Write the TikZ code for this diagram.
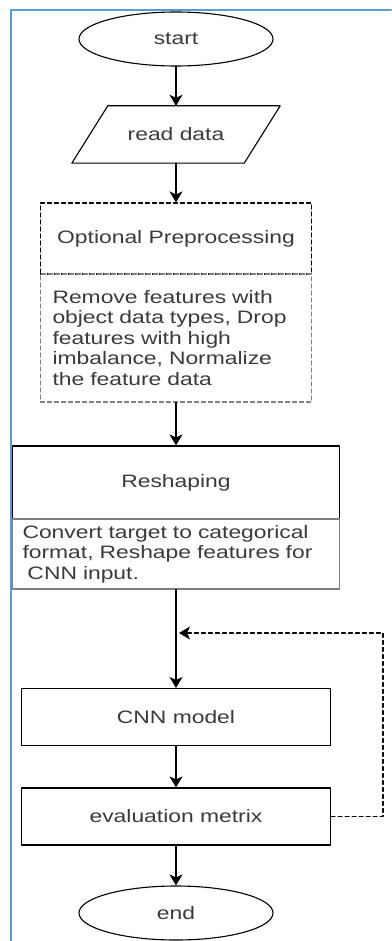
\documentclass[tikz,border=0pt]{standalone}
\usepackage{fontspec}
\setmainfont{Liberation Sans}[FakeStretch=1.27]
\usepackage{xcolor}
\usepackage{tikz}
\usetikzlibrary{arrows.meta, shapes.geometric}
\definecolor{frame_blue}{HTML}{5B9BD5}
\definecolor{label_gray}{HTML}{3A3A3A}
\definecolor{body_gray}{HTML}{7F7F7F}

\begin{document}
\begin{tikzpicture}[
                x=1pt,
                y=-1pt,
                line cap=round,
                line join=round,
                every node/.style={font=\fontsize{18}{20.5}\selectfont, text=label_gray},
                terminal/.style={draw, line width=1.1pt, ellipse, minimum width=194, minimum height=54},
                titlebox/.style={draw, line width=1.1pt, rectangle, minimum height=72},
                bodybox/.style={draw=body_gray, line width=1.1pt, rectangle, align=left},
                stepbox/.style={draw, line width=1.1pt, rectangle, minimum width=309, minimum height=57},
                arr/.style={line width=1.1pt, -{Stealth[length=11pt, width=13pt, inset=3pt]}},
                loopback/.style={arr, dash pattern=on 4pt off 3pt}
            ]
            \useasboundingbox (0,0) rectangle (391,941);

            % Frame on the page
            \draw[frame_blue, line width=2pt] (391,10) -- (11,10) -- (11,941);

            % Start and input
            \node[terminal] (start) at (176,39) {start};
            \node[minimum width=172, minimum height=57] (read) at (176,134.5) {read data};
            \draw[line width=1.1pt] ([xshift=18]read.north west) -- ([xshift=18]read.north east)
                -- ([xshift=-18]read.south east) -- ([xshift=-18]read.south west) -- cycle;

            % Optional Preprocessing (dashed)
            \node[titlebox, dash pattern=on 4pt off 3pt, minimum width=271, minimum height=71] (pre) at (176,238.5) {Optional Preprocessing};
            \node[bodybox, dash pattern=on 4pt off 3pt, minimum height=128, text width=247, inner xsep=12] (prebody) at (176,338)
                {Remove features with\\object data types, Drop\\features with high\\imbalance, Normalize\\the feature data};

            % Reshaping
            \node[titlebox, minimum width=327, minimum height=73] (reshape) at (176,482.5) {Reshaping};
            \node[bodybox, minimum height=70, text width=307, inner xsep=10] (reshapebody) at (176,554)
                {Convert target to categorical\\format, Reshape features for\\\hspace*{5pt}CNN input.};

            % Model and evaluation
            \node[stepbox] (cnn) at (176,717) {CNN model};
            \node[stepbox] (eval) at (176,816.5) {evaluation metrix};
            \node[terminal] (end) at (176,913) {end};

            % Arrows
            \draw[arr] (start) -- (read);
            \draw[arr] (read) -- (pre);
            \draw[arr] (prebody) -- (reshape);
            \draw[arr] (reshapebody) -- (cnn);
            \draw[arr] (cnn) -- (eval);
            \draw[arr] (eval) -- (end);

            % Feedback loop
            \coordinate (turn) at (383,633);
            \coordinate (loop) at (179,633);
            \draw[loopback] (eval.east) -| (turn) -- (loop);
        \end{tikzpicture}
\end{document}
